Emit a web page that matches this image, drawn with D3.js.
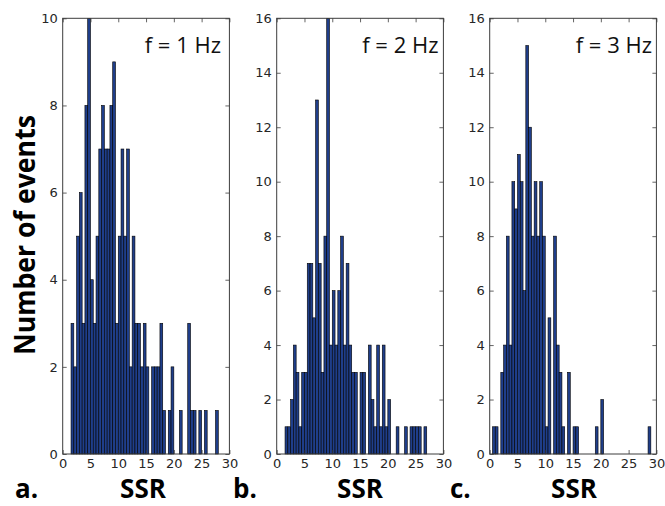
<!DOCTYPE html>
<html>
<head>
<meta charset="utf-8">
<script src="https://cdn.jsdelivr.net/npm/d3@7"></script>
<style>
  html, body { margin: 0; padding: 0; background: #fff; }
  svg { display: block; }
</style>
</head>
<body>
<svg id="chart" width="665" height="506"></svg>
<script>
// ---- data (histogram counts, bins of width 0.5) ----
const binWidth = 0.5;
const binStartA = 1.5;
const countsA = [3,2,5,6,3,8,10,4,3,5,7,8,7,7,8,9,3,5,7,5,7,2,5,3,3,2,3,2,0,2,2,2,3,1,0,1,2,0,0,1,0,0,3,1,1,0,1,0,1,0,0,0,1];
const binStartB = 1.5;
const countsB = [1,1,2,4,3,1,3,3,7,7,5,13,7,3,8,16,4,6,4,6,8,4,7,4,3,3,0,3,3,0,4,2,1,4,1,4,1,2,0,0,1,0,0,1,0,1,1,1,1,0,1];
const binStartC = 0.5;
const countsC = [1,1,0,3,4,8,4,10,9,11,10,6,15,12,8,10,8,10,8,1,5,0,8,4,3,1,0,3,0,1,1,0,0,0,0,0,0,1,0,2,0,0,0,0,0,0,0,0,0,0,0,0,0,0,0,0,1];
const panelTitles = ["f = 1 Hz", "f = 2 Hz", "f = 3 Hz"];
const panelLetters = ["a.", "b.", "c."];
const xLabel = "SSR";
const yLabel = "Number of events";
const xTicks = [0, 5, 10, 15, 20, 25, 30];
const yTicksA = [0, 2, 4, 6, 8, 10];
const yTicksBC = [0, 2, 4, 6, 8, 10, 12, 14, 16];
const xDomain = [0, 30];
const yMaxA = 10, yMaxBC = 16;

// ---- layout ----
const svg = d3.select("#chart");
const plotTop = 18.3, plotBottom = 454, plotW = 166.7;
const lefts = [62.7, 276.7, 489.7];
const titleRight = [221, 438.5, 652];
const letterX = [15, 233, 450];
const ssrX = [143, 360, 574];
const frameColor = "#3c3c3c";
const barFill = "#1f3e8a";
const tickFont = "'DejaVu Sans', sans-serif";

const panels = [
  {start: binStartA, counts: countsA, yMax: yMaxA, yTicks: yTicksA},
  {start: binStartB, counts: countsB, yMax: yMaxBC, yTicks: yTicksBC},
  {start: binStartC, counts: countsC, yMax: yMaxBC, yTicks: yTicksBC}
];

panels.forEach((p, i) => {
  const x = d3.scaleLinear().domain(xDomain).range([lefts[i], lefts[i] + plotW]);
  const y = d3.scaleLinear().domain([0, p.yMax]).range([plotBottom, plotTop]);
  const g = svg.append("g");

  const bins = p.counts.map((c, k) => ({x0: p.start + k * binWidth, x1: p.start + (k + 1) * binWidth, c}))
    .filter(d => d.c > 0);

  g.selectAll("rect.bar").data(bins).join("rect")
    .attr("class", "bar")
    .attr("x", d => x(d.x0))
    .attr("width", d => x(d.x1) - x(d.x0))
    .attr("y", d => y(d.c))
    .attr("height", d => y(0) - y(d.c))
    .attr("fill", barFill)
    .attr("stroke", "#000")
    .attr("stroke-width", 0.6);

  const styleAxis = (sel, showText) => {
    sel.select(".domain").remove();
    sel.selectAll(".tick line").attr("stroke", frameColor).attr("stroke-width", 0.8);
    sel.selectAll(".tick text").attr("fill", "#262626").style("font-family", tickFont).style("font-size", "13px");
    if (!showText) sel.selectAll(".tick text").remove();
  };

  g.append("g").attr("transform", `translate(0,${plotBottom})`)
    .call(d3.axisBottom(x).tickValues(xTicks).tickSizeInner(-4).tickSizeOuter(0).tickPadding(5).tickFormat(d3.format("d")))
    .call(s => styleAxis(s, true));
  g.append("g").attr("transform", `translate(0,${plotTop})`)
    .call(d3.axisTop(x).tickValues(xTicks).tickSizeInner(-4).tickSizeOuter(0))
    .call(s => styleAxis(s, false));
  g.append("g").attr("transform", `translate(${lefts[i]},0)`)
    .call(d3.axisLeft(y).tickValues(p.yTicks).tickSizeInner(-4).tickSizeOuter(0).tickPadding(5).tickFormat(d3.format("d")))
    .call(s => styleAxis(s, true));
  g.append("g").attr("transform", `translate(${lefts[i] + plotW},0)`)
    .call(d3.axisRight(y).tickValues(p.yTicks).tickSizeInner(-4).tickSizeOuter(0))
    .call(s => styleAxis(s, false));

  g.append("rect")
    .attr("x", lefts[i]).attr("y", plotTop)
    .attr("width", plotW).attr("height", plotBottom - plotTop)
    .attr("fill", "none").attr("stroke", frameColor).attr("stroke-width", 1);

  g.append("text")
    .attr("x", titleRight[i]).attr("y", 53)
    .attr("text-anchor", "end")
    .style("font-family", "'Open Sans', sans-serif")
    .style("font-size", "22px")
    .attr("fill", "#111")
    .text(panelTitles[i]);

  g.append("text")
    .attr("x", letterX[i]).attr("y", 498)
    .style("font-family", "'Open Sans', sans-serif")
    .style("font-weight", "bold")
    .style("font-size", "26px")
    .attr("fill", "#000")
    .text(panelLetters[i]);

  g.append("text")
    .attr("x", ssrX[i]).attr("y", 498)
    .attr("text-anchor", "middle")
    .style("font-family", "'Open Sans', sans-serif")
    .style("font-weight", "bold")
    .style("font-size", "26px")
    .attr("fill", "#000")
    .text(xLabel);
});

svg.append("text")
  .attr("transform", "translate(35,235) rotate(-90)")
  .attr("text-anchor", "middle")
  .attr("textLength", 240)
  .attr("lengthAdjust", "spacingAndGlyphs")
  .style("font-family", "'Open Sans', sans-serif")
  .style("font-weight", "bold")
  .style("font-size", "28px")
  .attr("fill", "#000")
  .text(yLabel);
</script>
</body>
</html>
